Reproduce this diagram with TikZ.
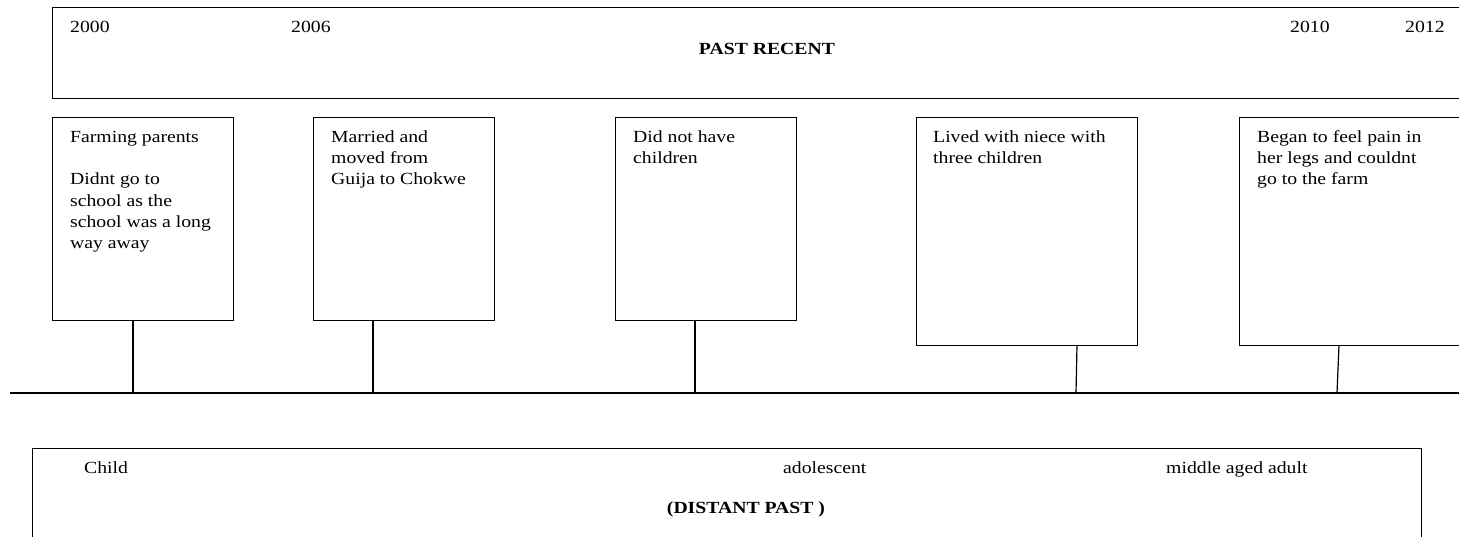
\documentclass[tikz,border=0pt]{standalone}
\usepackage{fontspec}
\setmainfont{Liberation Serif}[FakeStretch=1.16]
\begin{document}
\begin{tikzpicture}[x=1pt,y=-1pt,
  every node/.style={font=\fontsize{17}{21.3}\selectfont},
  band/.style={draw,line width=1.2pt,rectangle,inner sep=0pt,anchor=north west},
  eventbox/.style={draw,line width=1.2pt,rectangle,inner sep=0pt,anchor=north west,
    minimum width=181pt},
  label/.style={inner sep=0pt,anchor=base west},
  title/.style={inner sep=0pt,anchor=base,font=\fontsize{17}{21.3}\selectfont\bfseries},
  note/.style={inner sep=0pt,anchor=base west},
  stem/.style={line width=1.2pt}]
\useasboundingbox (0,0) rectangle (1459,536);
\clip (0,0) rectangle (1459,536);

% upper band: recent past
\node[band,minimum width=1440pt,minimum height=91pt] (recent) at (52,7) {};
\node[label] (y2000) at (70,32.3) {2000};
\node[label] (y2006) at (291,32.3) {2006};
\node[label] (y2010) at (1290,32.3) {2010};
\node[label] (y2012) at (1405,32.3) {2012};
\node[title] (recentlbl) at (767,54) {PAST RECENT};

% event boxes
\node[eventbox,minimum height=203pt] (b1) at (52,117) {};
\node[eventbox,minimum height=203pt] (b2) at (313,117) {};
\node[eventbox,minimum height=203pt] (b3) at (615,117) {};
\node[eventbox,minimum width=221pt,minimum height=228pt] (b4) at (916,117) {};
\node[eventbox,minimum width=260pt,minimum height=228pt] (b5) at (1239,117) {};

\node[note] (n1) at (70,142.3) {\parbox[t]{170pt}{Farming parents\\[21.3pt]Didnt go to\\school as the\\school was a long\\way away}};
\node[note] (n2) at (331,142.3) {\parbox[t]{170pt}{Married and\\moved from\\Guija to Chokwe}};
\node[note] (n3) at (633,142.3) {\parbox[t]{170pt}{Did not have\\children}};
\node[note] (n4) at (933,142.3) {\parbox[t]{200pt}{Lived with niece with\\three children}};
\node[note] (n5) at (1257,142.3) {\parbox[t]{200pt}{Began to feel pain in\\her legs and couldnt\\go to the farm}};

% time line and stems
\coordinate (tlstart) at (10,393);
\coordinate (tlend) at (1470,393);
\draw[stem] (tlstart) -- (tlend);

\coordinate (s1) at (133,393);
\coordinate (s2) at (373,393);
\coordinate (s3) at (695,393);
\coordinate (s4) at (1076,393);
\coordinate (s5) at (1337,393);
\coordinate (t4) at (1077,345);
\coordinate (t5) at (1339,345);
\draw[stem] (b1.south -| s1) -- (s1);
\draw[stem] (b2.south -| s2) -- (s2);
\draw[stem] (b3.south -| s3) -- (s3);
\draw[stem] (t4) -- (s4);
\draw[stem] (t5) -- (s5);

% lower band: distant past
\node[band,minimum width=1389pt,minimum height=130pt] (distant) at (32,448) {};
\node[label] (child) at (84,473) {Child};
\node[label] (adol) at (783,473) {adolescent};
\node[label] (midage) at (1166,473) {middle aged adult};
\node[title] (distantlbl) at (746,513) {(DISTANT PAST )};
\end{tikzpicture}
\end{document}
